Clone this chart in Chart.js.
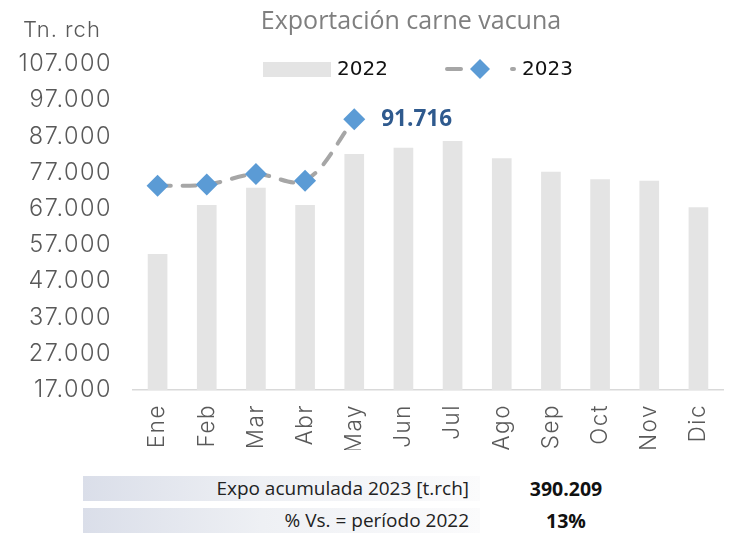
<!DOCTYPE html>
<html>
<head>
<meta charset="utf-8">
<script src="https://cdn.jsdelivr.net/npm/chart.js@4.4.0/dist/chart.umd.min.js"></script>
<style>
    html, body { margin: 0; padding: 0; background: #fff; overflow: hidden; }
    #wrap { position: absolute; left: 0; top: 0; width: 734px; height: 450px; }
    .fila { position: absolute; left: 83px; width: 397px; height: 25px;
            background: linear-gradient(to right, #dadee9, #eef0f4 45%, #fbfbfc);
            font-family: 'Open Sans', sans-serif; font-size: 19px; color: #222;
            text-align: right; line-height: 25px; box-sizing: border-box; padding-right: 11px; }
    .valor { position: absolute; left: 501px; width: 130px; text-align: center;
             font-family: 'Open Sans', sans-serif; font-weight: bold; font-size: 19.5px;
             color: #111; line-height: 25px; height: 25px; }
</style>
</head>
<body>
<div id="wrap"><canvas id="grafico" width="734" height="450"></canvas></div>
<div id="tabla"></div>
<script>
// datos
const meses = ['Ene', 'Feb', 'Mar', 'Abr', 'May', 'Jun', 'Jul', 'Ago', 'Sep', 'Oct', 'Nov', 'Dic'];
const expo2022 = [54550, 68100, 72850, 68100, 82150, 83900, 85750, 80950, 77270, 75170, 74800, 67440];
const expo2023 = [73400, 73700, 76600, 74800, 91716];
const ejeMin = 17000;
const ejeMax = 107000;
const ejePaso = 10000;
const resumenTextos = ['Expo acumulada 2023 [t.rch]', '% Vs. = período 2022'];
const resumenValores = ['390.209', '13%'];

const fuente = "Inter, 'DejaVu Sans', sans-serif";

function formatear(v) {
    return String(v).replace(/\B(?=(\d{3})+(?!\d))/g, '.');
}

// tabla de resumen
const tabla = document.getElementById('tabla');
resumenTextos.forEach((txt, i) => {
    const top = 476 + i * 32;
    const fila = document.createElement('div');
    fila.className = 'fila';
    fila.style.top = top + 'px';
    fila.textContent = txt;
    tabla.appendChild(fila);
    const val = document.createElement('div');
    val.className = 'valor';
    val.style.top = top + 'px';
    val.textContent = resumenValores[i];
    tabla.appendChild(val);
});

// titulo, leyenda y etiqueta del ultimo punto
const extras = {
    id: 'extras',
    beforeDraw(chart) {
        // letras de los ejes un poco más abiertas
        chart.ctx.letterSpacing = '1.5px';
    },
    afterDraw(chart) {
        const ctx = chart.ctx;
        ctx.save();
        ctx.letterSpacing = '0px';
        ctx.textBaseline = 'middle';

        ctx.fillStyle = '#7f7f7f';
        ctx.font = "25px 'Open Sans', sans-serif";
        ctx.textAlign = 'center';
        ctx.fillText('Exportación carne vacuna', 411, 22);

        ctx.fillStyle = '#595959';
        ctx.font = '300 22px ' + fuente;
        ctx.textAlign = 'left';
        ctx.letterSpacing = '1px';
        ctx.fillText('Tn. rch', 23, 30);
        ctx.letterSpacing = '0px';

        // leyenda
        ctx.fillStyle = '#e4e4e4';
        ctx.fillRect(263, 62, 68, 15);
        ctx.fillStyle = '#111';
        ctx.font = "20px 'DejaVu Sans', sans-serif";
        ctx.fillText('2022', 337, 70);

        ctx.strokeStyle = '#a6a6a6';
        ctx.lineWidth = 4;
        ctx.lineCap = 'round';
        ctx.beginPath();
        ctx.moveTo(447, 69); ctx.lineTo(461, 69);
        ctx.moveTo(512, 69); ctx.lineTo(514, 69);
        ctx.stroke();
        ctx.fillStyle = '#5b9bd5';
        ctx.beginPath();
        ctx.moveTo(480, 59); ctx.lineTo(490, 69); ctx.lineTo(480, 79); ctx.lineTo(470, 69);
        ctx.closePath();
        ctx.fill();
        ctx.fillStyle = '#111';
        ctx.fillText('2023', 522, 70);

        // etiqueta de mayo
        const meta = chart.getDatasetMeta(0);
        const ult = meta.data[expo2023.length - 1];
        ctx.fillStyle = '#2f5a8e';
        ctx.font = "bold 22.5px 'Open Sans', sans-serif";
        ctx.fillText(formatear(expo2023[expo2023.length - 1]), ult.x + 27, ult.y);
        ctx.restore();
    }
};

const ctx = document.getElementById('grafico').getContext('2d');
new Chart(ctx, {
    type: 'bar',
    data: {
        labels: meses,
        datasets: [{
            type: 'line',
            label: '2023',
            data: expo2023,
            borderColor: '#a6a6a6',
            borderWidth: 4,
            borderDash: [13, 12],
            borderCapStyle: 'round',
            tension: 0.35,
            pointStyle: 'rectRot',
            pointRadius: 11,
            pointBackgroundColor: '#5b9bd5',
            pointBorderColor: '#5b9bd5',
            pointBorderWidth: 0,
            order: 0
        }, {
            label: '2022',
            data: expo2022,
            backgroundColor: '#e4e4e4',
            barPercentage: 0.4,
            categoryPercentage: 1,
            order: 1
        }]
    },
    options: {
        responsive: false,
        animation: false,
        devicePixelRatio: 1,
        layout: { padding: { top: 64, left: 0, right: 0, bottom: 0 } },
        plugins: {
            legend: { display: false },
            tooltip: { enabled: false }
        },
        scales: {
            x: {
                grid: { display: false },
                border: { display: true, color: '#d9d9d9', width: 1.5 },
                ticks: {
                    color: '#595959',
                    font: { family: fuente, size: 22.5, weight: '300' },
                    minRotation: 90,
                    maxRotation: 90,
                    padding: 6
                },
                afterFit: s => { s.height = 60; }
            },
            y: {
                min: ejeMin,
                max: ejeMax,
                grid: { display: false },
                border: { display: false },
                ticks: {
                    stepSize: ejePaso,
                    color: '#595959',
                    font: { family: fuente, size: 23.5, weight: '300' },
                    padding: 13,
                    callback: v => formatear(v)
                },
                afterFit: s => { s.width = 133; }
            }
        }
    },
    plugins: [extras]
});
</script>
</body>
</html>
